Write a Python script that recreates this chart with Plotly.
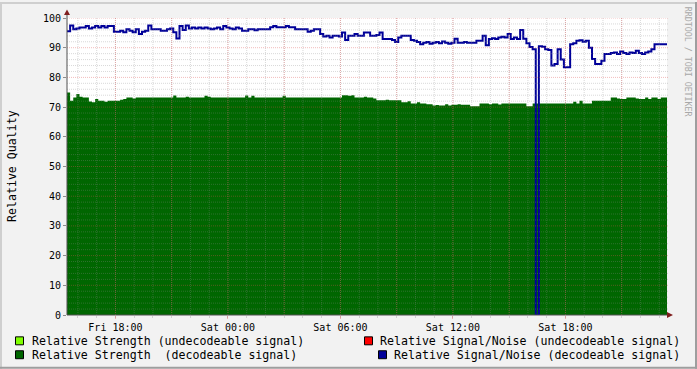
import plotly.graph_objects as go
import pandas as pd

# ---------------- data ----------------
START = "2010-06-04 15:25"   # Friday
END = "2010-06-05 23:25"     # Saturday
STEP = "10min"

snr_decodeable = [
    95.5, 97.5, 96.2, 96.5, 96.8, 96.8, 97.3, 96.5, 96.8, 97.3,
    96.8, 97.3, 96.8, 97.3, 97.3, 95.4, 95.4, 95.7, 95.2, 96.2,
    95.7, 95.2, 96.2, 94.6, 95.4, 95.7, 97.5, 96.2, 96.2, 96.2,
    95.7, 95.7, 96.2, 96.5, 95.2, 93.1, 97.3, 96.0, 97.5, 96.5,
    96.8, 96.5, 96.8, 96.5, 96.8, 96.5, 96.2, 96.5, 96.8, 96.2,
    97.3, 96.8, 96.5, 96.2, 96.8, 96.5, 95.7, 95.7, 96.2, 96.2,
    95.9, 96.2, 96.2, 96.2, 96.2, 96.9, 97.3, 96.9, 96.9, 96.9,
    97.3, 96.9, 96.9, 96.2, 96.2, 96.2, 96.2, 95.4, 95.7, 96.2,
    96.2, 94.6, 93.8, 94.0, 93.4, 94.0, 94.0, 93.8, 95.1, 92.6,
    94.0, 94.0, 94.6, 94.0, 94.0, 95.1, 95.1, 94.0, 94.0, 94.3,
    95.1, 92.9, 92.9, 92.9, 92.6, 91.9, 93.4, 94.0, 94.0, 94.0,
    92.6, 92.3, 91.9, 91.2, 91.7, 91.9, 91.3, 91.7, 91.9, 91.5,
    92.1, 91.7, 91.3, 91.7, 93.0, 91.7, 91.7, 91.9, 91.7, 91.7,
    91.7, 92.3, 92.3, 94.0, 90.8, 92.9, 93.2, 92.9, 93.4, 93.7,
    93.4, 94.6, 92.9, 93.4, 92.9, 96.0, 93.0, 91.5, 90.2, 89.5,
    0.0, 90.5, 90.3, 89.5, 89.2, 84.0, 84.5, 89.5, 86.0, 83.4,
    83.4, 91.2, 91.5, 92.3, 92.5, 92.0, 92.3, 90.0, 86.2, 84.5,
    84.5, 85.6, 87.9, 87.9, 88.2, 88.4, 87.9, 88.7, 88.2, 87.9,
    88.4, 88.2, 89.0, 88.2, 87.9, 88.4, 88.7, 89.5, 91.2, 91.2,
    91.2, 91.2, 90.9,
]

strength_decodeable = [
    74.9, 72.1, 73.2, 74.4, 73.5, 73.2, 73.2, 71.9, 71.6, 72.7,
    72.1, 72.1, 71.8, 72.1, 72.1, 72.1, 72.1, 72.5, 72.7, 73.2,
    73.2, 72.9, 73.2, 73.2, 73.2, 73.2, 73.2, 73.2, 73.2, 73.2,
    73.2, 73.2, 73.2, 73.2, 73.9, 73.2, 73.2, 73.2, 73.5, 73.2,
    73.2, 73.2, 73.2, 73.2, 73.8, 73.5, 73.2, 73.2, 73.2, 73.2,
    73.2, 73.2, 73.2, 73.2, 73.2, 73.2, 73.2, 73.9, 73.2, 73.8,
    73.2, 73.2, 73.2, 73.2, 73.2, 73.2, 73.2, 73.2, 73.2, 73.8,
    73.2, 73.2, 73.2, 73.2, 73.2, 73.2, 73.2, 73.2, 73.2, 73.2,
    73.2, 73.2, 73.2, 73.2, 73.2, 73.2, 73.2, 73.2, 74.0, 74.0,
    73.8, 74.0, 73.2, 73.2, 73.2, 73.5, 73.2, 73.2, 72.9, 72.3,
    72.3, 72.3, 72.5, 72.3, 72.3, 72.3, 72.3, 71.6, 71.6, 72.0,
    71.2, 71.2, 71.6, 71.2, 71.2, 71.0, 71.0, 70.5, 70.7, 70.5,
    70.5, 71.0, 70.5, 70.8, 70.8, 71.0, 70.8, 70.8, 70.8, 70.3,
    70.3, 70.3, 71.2, 71.2, 71.2, 71.0, 71.2, 71.2, 70.9, 71.2,
    71.2, 71.2, 71.2, 71.2, 71.2, 71.2, 71.2, 70.3, 70.3, 71.2,
    71.2, 71.2, 71.2, 71.2, 71.2, 71.2, 71.2, 71.2, 71.2, 71.2,
    71.2, 71.2, 71.8, 71.2, 72.1, 71.2, 71.2, 71.2, 72.1, 72.1,
    72.1, 72.1, 72.1, 72.1, 73.2, 73.2, 72.9, 72.7, 72.7, 73.2,
    73.2, 73.2, 72.9, 72.7, 72.7, 73.2, 72.7, 73.2, 73.2, 72.7,
    73.2, 73.2, 73.2,
]

y_tick_values = [0, 10, 20, 30, 40, 50, 60, 70, 80, 90, 100]
y_tick_labels = ["0", "10", "20", "30", "40", "50", "60", "70", "80", "90", "100"]

x_tick_times = ["2010-06-04 18:00", "2010-06-04 21:00", "2010-06-05 00:00",
                "2010-06-05 03:00", "2010-06-05 06:00", "2010-06-05 09:00",
                "2010-06-05 12:00", "2010-06-05 15:00", "2010-06-05 18:00",
                "2010-06-05 21:00"]
x_tick_labels = ["Fri 18:00", "", "Sat 00:00", "", "Sat 06:00", "",
                 "Sat 12:00", "", "Sat 18:00", ""]

legend_labels = ["Relative Strength (undecodeable signal)",
                 "Relative Signal/Noise (undecodeable signal)",
                 "Relative Strength\u00a0 (decodeable signal)",
                 "Relative Signal/Noise (decodeable signal)"]
legend_colors = ["#80ff00", "#ff0000", "#006600", "#000099"]

# ---------------- figure ----------------
W, H = 697, 369
ML, MR, MT, MB = 67, 30, 16, 54
PW, PH = W - ML - MR, H - MT - MB
MONO = "DejaVu Sans Mono"

def px_x(p):
    return (p - ML) / PW

def px_y(p):
    return (H - MB - p) / PH

times = pd.date_range(START, periods=len(snr_decodeable), freq=STEP)

fig = go.Figure()
fig.add_trace(go.Scatter(
    x=times, y=strength_decodeable, mode="lines",
    line=dict(width=0, shape="hv", color="#006600"),
    fill="tozeroy", fillcolor="#006600", hoverinfo="skip", showlegend=False))
fig.add_trace(go.Scatter(
    x=times, y=snr_decodeable, mode="lines",
    line=dict(width=2, shape="hv", color="#000099"),
    hoverinfo="skip", showlegend=False))

shapes = []
GRID = "rgba(140,140,140,0.33)"
MGRID = "rgba(222,79,79,0.38)"
DOT = "1px,1px"

# minor grid
for t in pd.date_range("2010-06-04 16:00", "2010-06-05 23:00", freq="1h"):
    shapes.append(dict(type="line", xref="x", yref="paper", x0=t, x1=t,
                       y0=0, y1=1, layer="above",
                       line=dict(color=GRID, width=1, dash=DOT)))
for v in range(2, 101, 2):
    if v % 10:
        shapes.append(dict(type="line", xref="paper", yref="y", x0=0, x1=px_x(ML + PW + 2),
                           y0=v, y1=v, layer="above",
                           line=dict(color=GRID, width=1, dash=DOT)))
# major grid
for t in x_tick_times:
    shapes.append(dict(type="line", xref="x", yref="paper", x0=t, x1=t,
                       y0=0, y1=1, layer="above",
                       line=dict(color=MGRID, width=1, dash=DOT)))
for v in y_tick_values[1:]:
    shapes.append(dict(type="line", xref="paper", yref="y", x0=0, x1=px_x(ML + PW + 2),
                       y0=v, y1=v, layer="above",
                       line=dict(color=MGRID, width=1, dash=DOT)))

# axes with arrows
AXIS = "#505050"
ARROW = "#801f1f"
shapes.append(dict(type="line", xref="paper", yref="paper", x0=0, x1=0,
                   y0=0, y1=px_y(11), layer="above", line=dict(color=AXIS, width=1)))
shapes.append(dict(type="line", xref="paper", yref="paper", x0=0, x1=px_x(ML + PW + 2),
                   y0=0, y1=0, layer="above", line=dict(color=AXIS, width=1)))
shapes.append(dict(type="path", xref="paper", yref="paper",
                   path=f"M {px_x(ML-3)},{px_y(13)} L {px_x(ML+3)},{px_y(13)} L {px_x(ML)},{px_y(7.5)} Z",
                   fillcolor=ARROW, line=dict(width=0), layer="above"))
shapes.append(dict(type="path", xref="paper", yref="paper",
                   path=f"M {px_x(ML+PW)},{px_y(H-MB-3)} L {px_x(ML+PW)},{px_y(H-MB+3)} L {px_x(ML+PW+6)},{px_y(H-MB)} Z",
                   fillcolor=ARROW, line=dict(width=0), layer="above"))

# frame (3d shading)
SHADEA, SHADEB = "#cfcfcf", "#9e9e9e"
shapes.append(dict(type="rect", xref="paper", yref="paper", x0=px_x(0), x1=px_x(W),
                   y0=px_y(0), y1=px_y(2), fillcolor=SHADEA, line=dict(width=0)))
shapes.append(dict(type="rect", xref="paper", yref="paper", x0=px_x(0), x1=px_x(2),
                   y0=px_y(0), y1=px_y(H), fillcolor=SHADEA, line=dict(width=0)))
shapes.append(dict(type="rect", xref="paper", yref="paper", x0=px_x(0), x1=px_x(W),
                   y0=px_y(H - 2), y1=px_y(H), fillcolor=SHADEB, line=dict(width=0)))
shapes.append(dict(type="rect", xref="paper", yref="paper", x0=px_x(W - 2), x1=px_x(W),
                   y0=px_y(0), y1=px_y(H), fillcolor=SHADEB, line=dict(width=0)))

annotations = []
# legend
leg_pos = [(15, 30, 341), (364, 378, 341), (15, 30, 355), (378, 392, 355)]
for (sx, tx, cy), col, lab in zip(leg_pos, legend_colors, legend_labels):
    shapes.append(dict(type="rect", xref="paper", yref="paper",
                       x0=px_x(sx + 0.5), x1=px_x(sx + 8.5),
                       y0=px_y(cy - 4), y1=px_y(cy + 4),
                       fillcolor=col, line=dict(color="black", width=1)))
    annotations.append(dict(xref="paper", yref="paper", x=px_x(tx), y=px_y(cy),
                            xanchor="left", yanchor="middle", showarrow=False,
                            text=lab, font=dict(family=MONO, size=11.6, color="black")))

# y title
annotations.append(dict(xref="paper", yref="paper", x=px_x(12), y=px_y(165),
                        xanchor="center", yanchor="middle", showarrow=False,
                        textangle=-90, text="Relative Quality",
                        font=dict(family=MONO, size=11.6, color="black")))
# watermark
annotations.append(dict(xref="paper", yref="paper", x=px_x(688), y=px_y(60),
                        xanchor="center", yanchor="middle", showarrow=False,
                        textangle=90, text="RRDTOOL / TOBI OETIKER",
                        font=dict(family=MONO, size=8.3, color="#a8a8a8")))

fig.update_layout(
    width=W, height=H, margin=dict(l=ML, r=MR, t=MT, b=MB, pad=0),
    paper_bgcolor="#f2f2f2", plot_bgcolor="#ffffff",
    showlegend=False, shapes=shapes, annotations=annotations,
    xaxis=dict(type="date", range=[START, END], tickvals=x_tick_times,
               ticktext=x_tick_labels, ticks="outside", ticklen=3,
               tickcolor=MGRID, showgrid=False, zeroline=False, showline=False,
               tickfont=dict(family=MONO, size=10, color="black"),
               minor=dict(tickvals=list(pd.date_range("2010-06-04 16:00", "2010-06-05 23:00", freq="1h")),
                          ticks="outside", ticklen=2, tickcolor=GRID, showgrid=False)),
    yaxis=dict(range=[0, 100], tickvals=y_tick_values, ticktext=y_tick_labels,
               ticks="outside", ticklen=3, tickcolor="#8c8c8c", showgrid=False,
               zeroline=False, showline=False,
               tickfont=dict(family=MONO, size=10, color="black")),
)

fig.write_html("out.html")
